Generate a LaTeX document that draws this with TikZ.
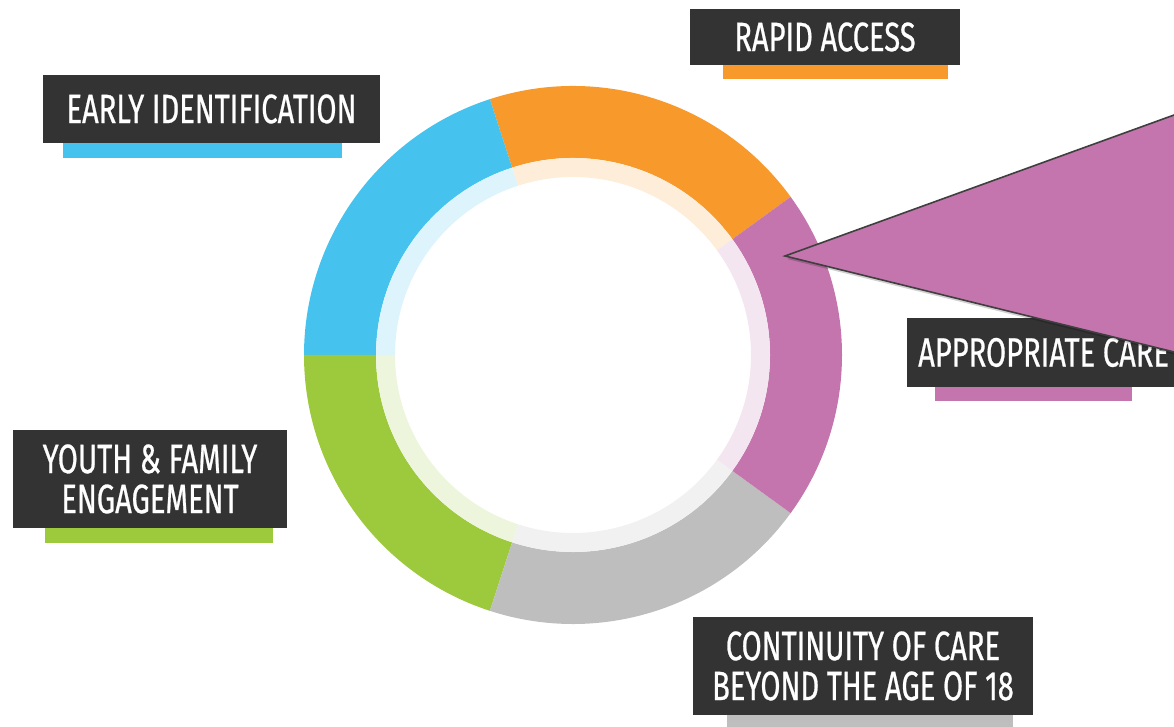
\documentclass[tikz,border=0pt]{standalone}
\usepackage{fontspec}
\newfontfamily\tagfont[FakeStretch=0.71,FakeBold=0.6]{Fira Sans}
\usetikzlibrary{calc,positioning}

\definecolor{ringblue}{HTML}{45C3EE}
\definecolor{ringorange}{HTML}{F7992B}
\definecolor{ringpurple}{HTML}{C475AD}
\definecolor{ringgray}{HTML}{BEBEBE}
\definecolor{ringgreen}{HTML}{9DC93C}
\definecolor{tagdark}{HTML}{333333}
\definecolor{bubbleedge}{HTML}{3F3F3F}

\tikzset{
  tag/.style={fill=tagdark, text=white, inner sep=0pt, align=center,
    font=\tagfont\fontsize{41}{40}\selectfont},
  bubble/.style={fill=ringpurple, draw=bubbleedge, line width=1.6pt, line join=miter},
}

\begin{document}
\begin{tikzpicture}[x=1pt,y=1pt]

    \useasboundingbox (0,0) rectangle (1174,727);
    \clip (0,0) rectangle (1174,727);

    %%%%%%%%%%%%%%%%%%
    %%%%% Ring   %%%%%
    %%%%%%%%%%%%%%%%%%

    \coordinate (C) at (573,372);

    % Coloured parts, 72 degrees each
    \fill[ringorange] ($(C)+(36:269)$) arc[start angle=36, end angle=108, radius=269]
        -- ($(C)+(108:197)$) arc[start angle=108, end angle=36, radius=197] -- cycle;
    \fill[ringblue] ($(C)+(108:269)$) arc[start angle=108, end angle=180, radius=269]
        -- ($(C)+(180:197)$) arc[start angle=180, end angle=108, radius=197] -- cycle;
    \fill[ringgreen] ($(C)+(180:269)$) arc[start angle=180, end angle=252, radius=269]
        -- ($(C)+(252:197)$) arc[start angle=252, end angle=180, radius=197] -- cycle;
    \fill[ringgray] ($(C)+(252:269)$) arc[start angle=252, end angle=324, radius=269]
        -- ($(C)+(324:197)$) arc[start angle=324, end angle=252, radius=197] -- cycle;
    \fill[ringpurple] ($(C)+(-36:269)$) arc[start angle=-36, end angle=36, radius=269]
        -- ($(C)+(36:197)$) arc[start angle=36, end angle=-36, radius=197] -- cycle;

    % Pale inner band
    \fill[ringorange!18] ($(C)+(36:197)$) arc[start angle=36, end angle=108, radius=197]
        -- ($(C)+(108:178)$) arc[start angle=108, end angle=36, radius=178] -- cycle;
    \fill[ringblue!18] ($(C)+(108:197)$) arc[start angle=108, end angle=180, radius=197]
        -- ($(C)+(180:178)$) arc[start angle=180, end angle=108, radius=178] -- cycle;
    \fill[ringgreen!18] ($(C)+(180:197)$) arc[start angle=180, end angle=252, radius=197]
        -- ($(C)+(252:178)$) arc[start angle=252, end angle=180, radius=178] -- cycle;
    \fill[ringgray!22] ($(C)+(252:197)$) arc[start angle=252, end angle=324, radius=197]
        -- ($(C)+(324:178)$) arc[start angle=324, end angle=252, radius=178] -- cycle;
    \fill[ringpurple!18] ($(C)+(-36:197)$) arc[start angle=-36, end angle=36, radius=197]
        -- ($(C)+(36:178)$) arc[start angle=36, end angle=-36, radius=178] -- cycle;

    %%%%%%%%%%%%%%%%%%
    %%%%% Tags   %%%%%
    %%%%%%%%%%%%%%%%%%

    % Bars under the tags
    \fill[ringorange] (723,648) rectangle (948,662);
    \fill[ringblue] (63,569) rectangle (342,584);
    \fill[ringgreen] (45,184) rectangle (273,199);
    \fill[ringgray] (727,-5) rectangle (1013,12);
    \fill[ringpurple] (935,326) rectangle (1132,340);

    \node[tag, minimum width=270pt, minimum height=56pt] (rapid) at (825,690) {RAPID ACCESS};
    \node[tag, minimum width=337pt, minimum height=68pt] (early) at (211.5,618) {EARLY IDENTIFICATION};
    \node[tag, minimum width=274pt, minimum height=98pt] (youth) at (150,248) {YOUTH \& FAMILY\\ENGAGEMENT};
    \node[tag, minimum width=340pt, minimum height=98pt] (continuity) at (863,61) {CONTINUITY OF CARE\\BEYOND THE AGE OF 18};
    \node[tag, anchor=west, minimum height=69pt, inner xsep=11pt] (appropriate) at (907,374.5) {APPROPRIATE CARE};
    % box runs on past the right edge
    \fill[tagdark] (appropriate.north east) rectangle (1180,340);

    %%%%%%%%%%%%%%%%%%
    %%%%% Callout %%%%
    %%%%%%%%%%%%%%%%%%

    \coordinate (tip) at (785,471);
    \coordinate (top) at (1200,621.4);
    \coordinate (bottom) at (1200,368.6);

    % Soft shadow below the pointer
    \fill[black, opacity=0.18] ($(tip)+(2,-3)$) -- ($(top)+(2,-3)$) -- ($(bottom)+(2,-3)$) -- cycle;
    \draw[bubble] (tip) -- (top) -- (bottom) -- cycle;

\end{tikzpicture}
\end{document}
